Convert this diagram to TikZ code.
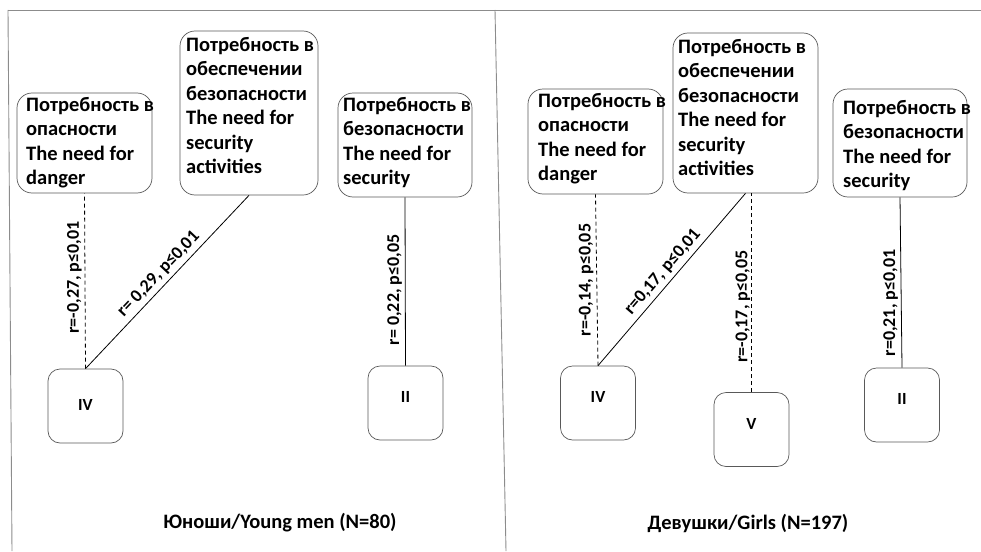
\documentclass[tikz,border=0pt]{standalone}
\usepackage{fontspec}
\setmainfont{Carlito}
\begin{document}
\begin{tikzpicture}[x=1pt,y=-1pt,
  frame/.style={draw=black!45, line width=0.9pt},
  bigbox/.style={draw=black!65, line width=0.7pt, rounded corners=15pt, inner sep=0pt},
  smallbox/.style={draw=black!65, line width=0.7pt, rounded corners=12pt, inner sep=0pt, minimum width=75pt, minimum height=74pt},
  txt/.style={anchor=north west, align=left, inner sep=0pt, font=\bfseries\fontsize{20.5}{24.5}\selectfont},
  roman/.style={inner sep=0pt, font=\bfseries\fontsize{17}{20}\selectfont},
  conn/.style={draw=black, line width=0.8pt},
  dconn/.style={conn, dash pattern=on 4pt off 3pt},
  lab/.style={sloped, above, inner sep=4pt, font=\bfseries\fontsize{18}{20}\selectfont},
  vlab/.style={rotate=90, anchor=south, inner sep=3pt, font=\bfseries\fontsize{18}{20}\selectfont},
  captext/.style={inner sep=0pt, font=\bfseries\fontsize{20.5}{24}\selectfont}]
\useasboundingbox (0,0) rectangle (981,551);
% frame
\draw[frame] (8,10) -- (981,10);
\draw[frame] (8,10) -- (12,551);
\draw[frame] (495,10) -- (506,551);

% ---------- left panel ----------
\node[bigbox, minimum width=135pt, minimum height=100pt] (LA) at (84.5,143) {};
\node[txt] (LAt) at (26,97) {Потребность в\\опасности\\The need for\\danger};
\node[bigbox, minimum width=138pt, minimum height=164pt] (LB) at (249,113) {};
\node[txt] (LBt) at (186,37) {Потребность в\\обеспечении\\безопасности\\The need for\\security\\activities};
\node[bigbox, minimum width=134pt, minimum height=104pt] (LC) at (405,145) {};
\node[txt] (LCt) at (343,97) {Потребность в\\безопасности\\The need for\\security};

\node[smallbox] (LIV) at (85.5,406) {};
\node[roman] (LIVt) at ([yshift=1pt]LIV.center) {IV};
\node[smallbox] (LII) at (405.5,403) {};
\node[roman] (LIIt) at ([yshift=6pt]LII.center) {II};

\draw[dconn] (LIV.north) -- node[vlab, pos=0.52] {r=-0,27, p≤0,01} (LA.south);
\draw[conn] (LIV.north) -- node[lab, pos=0.5] {r= 0,29, p≤0,01} (LB.south);
\draw[conn] (LII.north) -- node[vlab, pos=0.45] {r= 0,22, p≤0,05} (LC.south);

\node[captext] (capL) at (280,523) {Юноши/Young men (N=80)};

% ---------- right panel ----------
\node[bigbox, minimum width=135pt, minimum height=105pt] (RA) at (595.5,141.5) {};
\node[txt] (RAt) at (538,93) {Потребность в\\опасности\\The need for\\danger};
\node[bigbox, minimum width=145pt, minimum height=160pt] (RB) at (745.5,113) {};
\node[txt] (RBt) at (678,39) {Потребность в\\обеспечении\\безопасности\\The need for\\security\\activities};
\node[bigbox, minimum width=134pt, minimum height=108pt] (RC) at (900,143) {};
\node[txt] (RCt) at (843,100) {Потребность в\\безопасности\\The need for\\security};

\node[smallbox] (RIV) at (598,403) {};
\node[roman] (RIVt) at ([yshift=6pt]RIV.center) {IV};
\node[smallbox] (RV) at (751.5,429.5) {};
\node[roman] (RVt) at ([yshift=6pt]RV.center) {V};
\node[smallbox] (RII) at (902,405) {};
\node[roman] (RIIt) at ([yshift=6pt]RII.center) {II};

\draw[dconn] (RIV.north) -- node[vlab, pos=0.5] {r=-0,14, p≤0,05} (RA.south);
\draw[conn] (RIV.north) -- node[lab, pos=0.5] {r=0,17, p≤0,01} (RB.south);
\draw[dconn] (RV.north) -- node[vlab, pos=0.43, inner sep=1pt] {r=-0,17, p≤0,05} (RV.north |- RB.south);
\draw[conn] (RII.north) -- node[vlab, pos=0.38] {r=0,21, p≤0,01} (RC.south);

\node[captext] (capR) at (748,523) {Девушки/Girls (N=197)};
\end{tikzpicture}
\end{document}
